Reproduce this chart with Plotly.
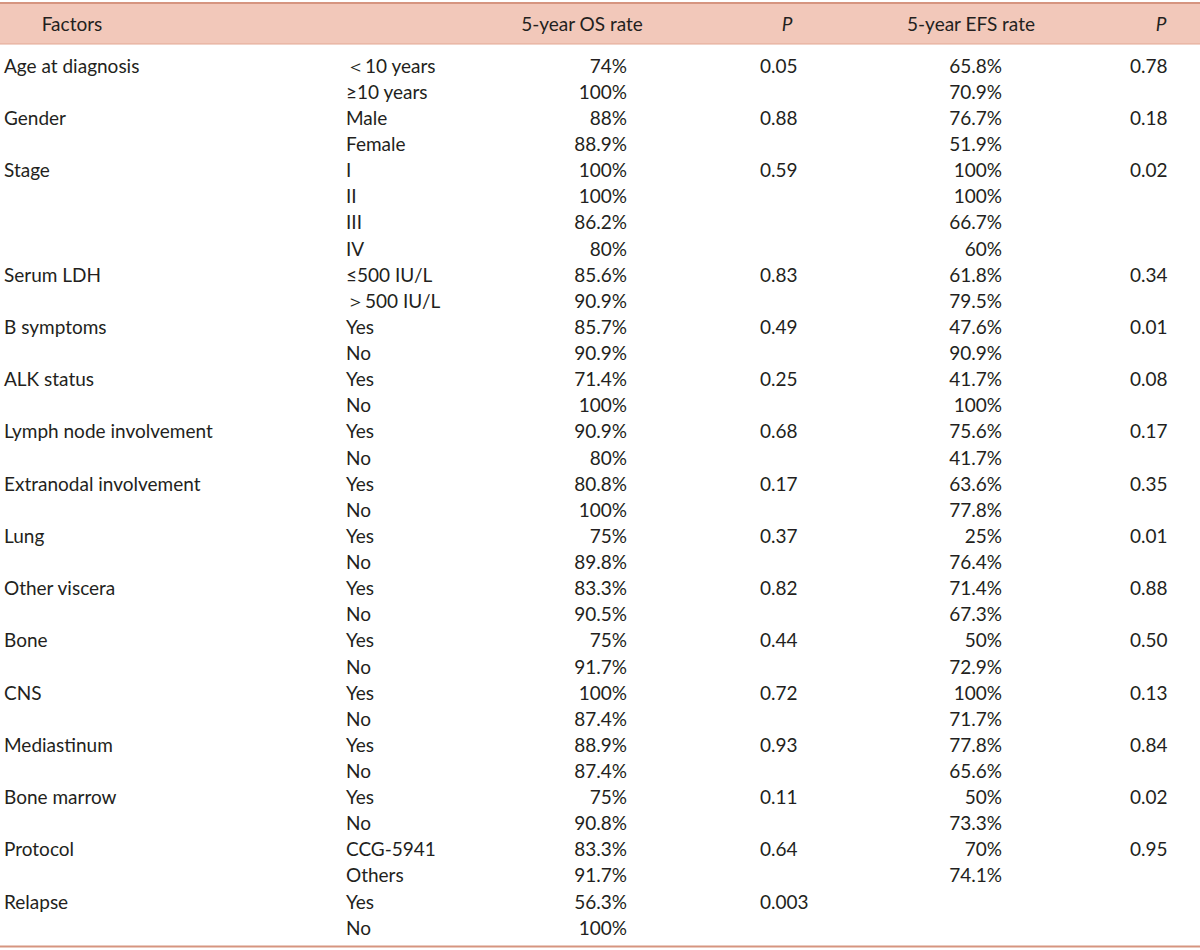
import plotly.graph_objects as go

factors = ["Age at diagnosis", "", "Gender", "", "Stage", "", "", "", "Serum LDH", "",
           "B symptoms", "", "ALK status", "", "Lymph node involvement", "",
           "Extranodal involvement", "", "Lung", "", "Other viscera", "", "Bone", "",
           "CNS", "", "Mediastinum", "", "Bone marrow", "", "Protocol", "", "Relapse", ""]
levels = ["＜10 years", "≥10 years", "Male", "Female", "I", "II", "III", "IV",
          "≤500 IU/L", "＞500 IU/L", "Yes", "No", "Yes", "No", "Yes", "No",
          "Yes", "No", "Yes", "No", "Yes", "No", "Yes", "No", "Yes", "No",
          "Yes", "No", "Yes", "No", "CCG-5941", "Others", "Yes", "No"]
os_rate = ["74%", "100%", "88%", "88.9%", "100%", "100%", "86.2%", "80%",
           "85.6%", "90.9%", "85.7%", "90.9%", "71.4%", "100%", "90.9%", "80%",
           "80.8%", "100%", "75%", "89.8%", "83.3%", "90.5%", "75%", "91.7%",
           "100%", "87.4%", "88.9%", "87.4%", "75%", "90.8%", "83.3%", "91.7%",
           "56.3%", "100%"]
os_p = ["0.05", "", "0.88", "", "0.59", "", "", "", "0.83", "", "0.49", "", "0.25", "",
        "0.68", "", "0.17", "", "0.37", "", "0.82", "", "0.44", "", "0.72", "",
        "0.93", "", "0.11", "", "0.64", "", "0.003", ""]
efs_rate = ["65.8%", "70.9%", "76.7%", "51.9%", "100%", "100%", "66.7%", "60%",
            "61.8%", "79.5%", "47.6%", "90.9%", "41.7%", "100%", "75.6%", "41.7%",
            "63.6%", "77.8%", "25%", "76.4%", "71.4%", "67.3%", "50%", "72.9%",
            "100%", "71.7%", "77.8%", "65.6%", "50%", "73.3%", "70%", "74.1%",
            "", ""]
efs_p = ["0.78", "", "0.18", "", "0.02", "", "", "", "0.34", "", "0.01", "", "0.08", "",
         "0.17", "", "0.35", "", "0.01", "", "0.88", "", "0.50", "", "0.13", "",
         "0.84", "", "0.02", "", "0.95", "", "", ""]
headers = ["Factors", "5-year OS rate", "<i>P</i>", "5-year EFS rate", "<i>P</i>"]

W, H = 1200, 950
ROW0, STEP = 68, 26.12
ys = [ROW0 + i * STEP for i in range(len(levels))]
FONT = dict(family="Lato, 'Noto Sans', sans-serif", size=19, color="#231f20")

fig = go.Figure()
cols = [
    (factors, 4, "middle right"),
    (levels, 346, "middle right"),
    (os_rate, 627, "middle left"),
    (os_p, 760, "middle right"),
    (efs_rate, 1002, "middle left"),
    (efs_p, 1130, "middle right"),
]
for vals, x, pos in cols:
    fig.add_trace(go.Scatter(x=[x] * len(vals), y=ys, text=vals, mode="text",
                             textposition=pos, textfont=FONT, hoverinfo="skip",
                             showlegend=False))
fig.add_trace(go.Scatter(x=[72, 582, 787, 971, 1161], y=[26] * 5, text=headers,
                         mode="text", textposition="middle center", textfont=FONT,
                         hoverinfo="skip", showlegend=False))

fig.add_shape(type="rect", x0=0, x1=W, y0=3, y1=44, fillcolor="#f2c8ba",
              line_width=0, layer="below")
fig.add_shape(type="line", x0=0, x1=W, y0=3, y1=3, line=dict(color="#d69580", width=2))
fig.add_shape(type="line", x0=0, x1=W, y0=44, y1=44, line=dict(color="#e3a894", width=1))
fig.add_shape(type="line", x0=0, x1=W, y0=946.5, y1=946.5, line=dict(color="#d69580", width=2))

fig.update_xaxes(range=[0, W], visible=False, fixedrange=True)
fig.update_yaxes(range=[H, 0], visible=False, fixedrange=True)
fig.update_layout(width=W, height=H, margin=dict(l=0, r=0, t=0, b=0),
                  paper_bgcolor="white", plot_bgcolor="white", hovermode=False)
fig.write_html("out.html", config={"displayModeBar": False, "staticPlot": True},
               post_script="document.body.style.margin='0';document.body.style.overflow='hidden';")
